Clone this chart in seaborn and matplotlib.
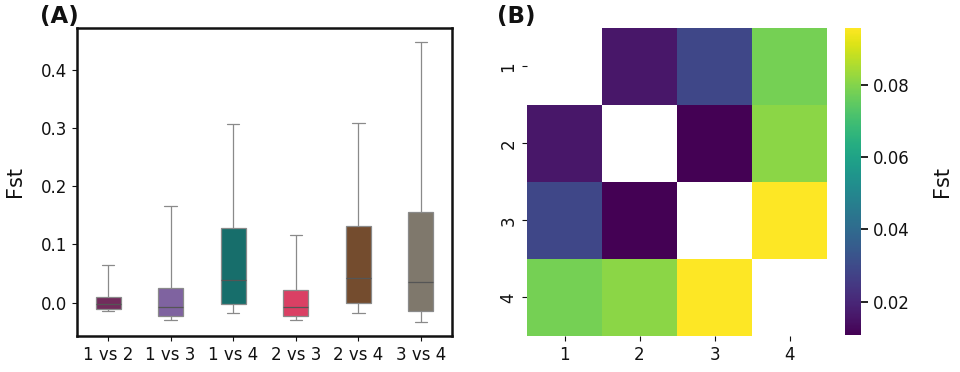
import numpy as np
import pandas as pd
import seaborn as sns
import matplotlib.pyplot as plt

# box plot values: min, q1, median, q3, max
comparisons = ['1 vs 2', '1 vs 3', '1 vs 4', '2 vs 3', '2 vs 4', '3 vs 4']
fst_min = [-0.014, -0.030, -0.017, -0.030, -0.017, -0.033]
fst_q1 = [-0.0115, -0.022, -0.002, -0.022, -0.001, -0.015]
fst_med = [-0.002, -0.007, 0.039, -0.008, 0.042, 0.035]
fst_q3 = [0.009, 0.025, 0.128, 0.021, 0.131, 0.155]
fst_max = [0.064, 0.166, 0.307, 0.116, 0.308, 0.448]
box_colors = ['#722c5c', '#7f63a0', '#176e6b', '#da4064', '#744c2e', '#7f786c']

# pairwise mean Fst between the 4 groups
groups = ['1', '2', '3', '4']
fst_pairs = {('1', '2'): 0.016, ('1', '3'): 0.029, ('1', '4'): 0.078,
             ('2', '3'): 0.011, ('2', '4'): 0.081, ('3', '4'): 0.096}

rows = []
for i, c in enumerate(comparisons):
    for v in [fst_min[i], fst_q1[i], fst_med[i], fst_q3[i], fst_max[i]]:
        rows.append({'Comparison': c, 'Fst': v})
df_box = pd.DataFrame(rows)

mat = pd.DataFrame(np.nan, index=groups, columns=groups)
for (a, b), v in fst_pairs.items():
    mat.loc[a, b] = v
    mat.loc[b, a] = v

sns.set_style('ticks')
plt.rcParams['font.family'] = ['DejaVu Sans']
plt.rcParams['text.color'] = '#111111'
plt.rcParams['axes.labelcolor'] = '#111111'
plt.rcParams['xtick.color'] = '#111111'
plt.rcParams['ytick.color'] = '#111111'

fig = plt.figure(figsize=(9.6, 3.72), dpi=100)
ax1 = fig.add_axes([0.080, 0.097, 0.391, 0.828])
ax2 = fig.add_axes([0.549, 0.097, 0.3125, 0.828])
cax = fig.add_axes([0.880, 0.100, 0.0167, 0.825])

#pannello A: boxplot
sns.boxplot(data=df_box, x='Comparison', y='Fst', hue='Comparison', palette=box_colors,
            saturation=1, width=0.4, whis=(0, 100), linewidth=0.9, linecolor='#8a8a8a',
            medianprops={'color': '#555555'}, legend=False, ax=ax1)
ax1.set_xlabel('')
ax1.set_ylabel('Fst', fontsize=15, labelpad=11)
ax1.tick_params(labelsize=12)
ax1.set_yticks([0.0, 0.1, 0.2, 0.3, 0.4])
for s in ax1.spines.values():
    s.set_linewidth(1.8)
    s.set_color('#111111')
ax1.text(-0.097, 1.0, '(A)', transform=ax1.transAxes, fontsize=16.5, fontweight='bold',
         va='bottom', ha='left')

#pannello B: heatmap
sns.heatmap(mat, cmap='viridis', ax=ax2, cbar_ax=cax, vmin=0.0108, vmax=0.0958,
            cbar_kws={'label': 'Fst', 'ticks': [0.02, 0.04, 0.06, 0.08]})
ax2.tick_params(labelsize=12)
cax.tick_params(labelsize=12, length=5, width=1.3, color='#111111')
cax.set_ylabel('Fst', fontsize=15, labelpad=16)
for s in cax.spines.values():
    s.set_visible(False)
ax2.text(-0.10, 1.0, '(B)', transform=ax2.transAxes, fontsize=16.5, fontweight='bold',
         va='bottom', ha='left')

plt.savefig('out.png', dpi=100)
